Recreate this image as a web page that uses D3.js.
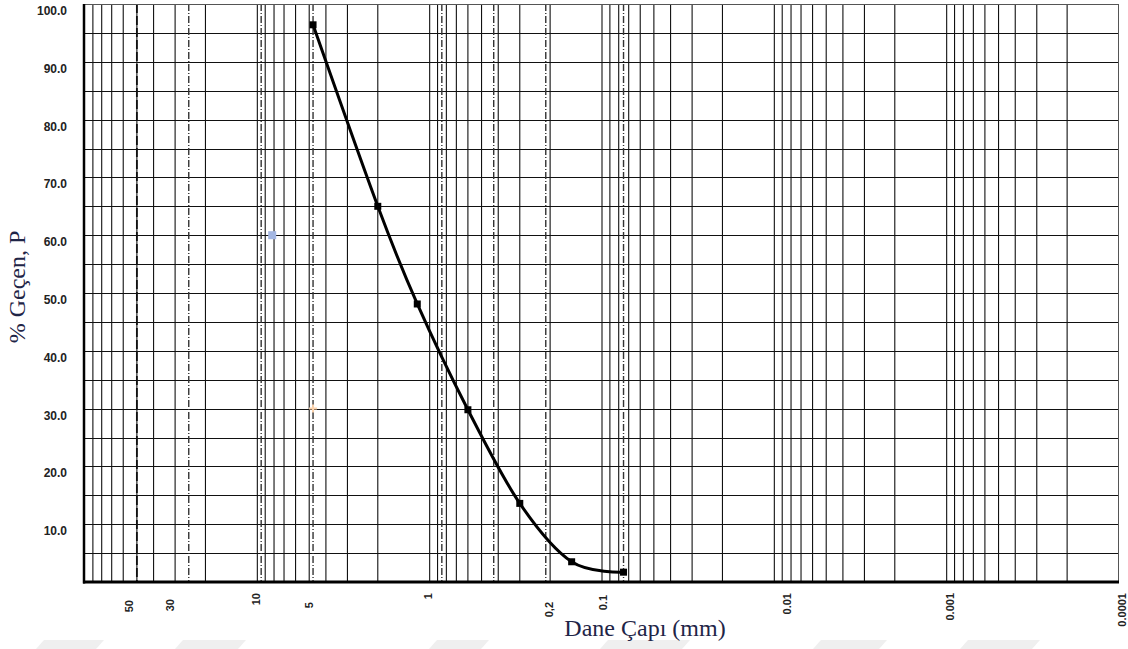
<!DOCTYPE html>
<html>
<head>
<meta charset="utf-8">
<script src="https://cdn.jsdelivr.net/npm/d3@7"></script>
<style>
  html, body { margin: 0; padding: 0; background: #fff; }
  svg { display: block; }
</style>
</head>
<body>
<svg id="chart" width="1128" height="649"></svg>
<script>
// Grain size distribution (sieve analysis)
const sieveSizes = [4.75, 2.0, 1.18, 0.6, 0.3, 0.15, 0.075];     // mm
const percentPassing = [96.4, 65.0, 48.1, 29.8, 13.6, 3.5, 1.7]; // %

// Two stray single-point series
const extraSquare = [{ d: 8.2, p: 60 }];
const extraPlus = [{ d: 4.75, p: 30 }];

// Standard sieve openings marked with dash-dot lines
const sieveLines = [25, 9.5, 4.75, 0.85, 0.425, 0.212, 0.075];
const heavyDashLine = [50];

// Axis ticks
const xTickValues = [50, 30, 10, 5, 1, 0.2, 0.1, 0.01, 0.001, 0.0001];
const xTickLabels = ["50", "30", "10", "5", "1", "0,2", "0.1", "0.01", "0.001", "0.0001"];
const yTickValues = [10, 20, 30, 40, 50, 60, 70, 80, 90, 100];
const yGridValues = d3.range(5, 100, 5);

// ---- layout ----
const svg = d3.select("#chart");

const x = d3.scaleLog().domain([100, 0.0001]).range([85, 1119]);
const y = d3.scaleLinear().domain([0, 100]).range([582, 4]);

// label nudges (dx, top y) for the rotated x tick labels
const xLabelNudge = {
  "50": [-8, 600], "30": [-5, 599], "10": [-1, 593], "5": [0, 602], "1": [-2, 593],
  "0,2": [-1, 602], "0.1": [1, 595], "0.01": [13, 593], "0.001": [3, 593], "0.0001": [3, 593]
};

// faint band along the bottom edge
const band = svg.append("g").attr("fill", "#efefef");
[[36, 104], [175, 246], [429, 489], [600, 690], [813, 887], [960, 1040]].forEach(([a, b]) => {
  band.append("path").attr("d", `M${a + 8},640 L${b},640 L${b - 8},649 L${a},649 Z`);
});

const plotL = x(100), plotR = x(0.0001), plotT = y(100), plotB = y(0);

// vertical log grid: 1..9 in every decade
const vGrid = [];
for (let e = -4; e <= 1; e++) {
  for (let m = 1; m <= 9; m++) vGrid.push(m * Math.pow(10, e));
}
const gGrid = svg.append("g");
gGrid.selectAll("line.v").data(vGrid.filter(v => v > 0.0001 && v < 100)).join("line")
  .attr("class", "v")
  .attr("x1", d => x(d)).attr("x2", d => x(d))
  .attr("y1", plotT).attr("y2", plotB)
  .attr("stroke", "#111").attr("stroke-width", 1.1);

// horizontal grid every 5 %
gGrid.selectAll("line.h").data(yGridValues).join("line")
  .attr("class", "h")
  .attr("x1", plotL).attr("x2", plotR)
  .attr("y1", d => Math.round(y(d)) + 0.5).attr("y2", d => Math.round(y(d)) + 0.5)
  .attr("stroke", "#111").attr("stroke-width", 1.2);

// sieve lines
gGrid.selectAll("line.s").data(sieveLines).join("line")
  .attr("class", "s")
  .attr("x1", d => x(d)).attr("x2", d => x(d))
  .attr("y1", plotT).attr("y2", plotB)
  .attr("stroke", "#333").attr("stroke-width", 1.4)
  .attr("stroke-dasharray", "7,2,1,2");
gGrid.selectAll("line.hd").data(heavyDashLine).join("line")
  .attr("class", "hd")
  .attr("x1", d => x(d)).attr("x2", d => x(d))
  .attr("y1", plotT).attr("y2", plotB)
  .attr("stroke", "#111").attr("stroke-width", 1.8)
  .attr("stroke-dasharray", "9,3");

// frame
svg.append("line").attr("x1", plotL).attr("x2", plotR).attr("y1", plotT + 0.5).attr("y2", plotT + 0.5)
  .attr("stroke", "#555").attr("stroke-width", 1);
svg.append("line").attr("x1", plotR - 0.5).attr("x2", plotR - 0.5).attr("y1", plotT).attr("y2", plotB)
  .attr("stroke", "#555").attr("stroke-width", 1);
svg.append("line").attr("x1", plotL - 1).attr("x2", plotL - 1).attr("y1", plotT).attr("y2", plotB + 1.5)
  .attr("stroke", "#000").attr("stroke-width", 2.5);
svg.append("line").attr("x1", plotL - 2).attr("x2", plotR).attr("y1", plotB).attr("y2", plotB)
  .attr("stroke", "#000").attr("stroke-width", 3);

// y tick labels
svg.append("g").selectAll("text").data(yTickValues).join("text")
  .attr("x", 67).attr("y", d => y(d) + 7)
  .attr("text-anchor", "end").attr("dominant-baseline", "central")
  .attr("font-family", "'Liberation Sans', Arial, sans-serif")
  .attr("font-weight", "bold").attr("font-size", 12).attr("fill", "#222")
  .text(d => d.toFixed(1));

// x tick labels (rotated)
svg.append("g").selectAll("text").data(xTickValues).join("text")
  .attr("transform", (d, i) => {
    const n = xLabelNudge[xTickLabels[i]];
    return `translate(${x(d) + n[0]},${n[1]}) rotate(-90)`;
  })
  .attr("text-anchor", "end").attr("dy", "0.36em")
  .attr("font-family", "'Liberation Sans', Arial, sans-serif")
  .attr("font-weight", "bold").attr("font-size", 11).attr("fill", "#222")
  .text((d, i) => xTickLabels[i]);

// axis titles
svg.append("text")
  .attr("transform", "translate(17,287) rotate(-90)")
  .attr("text-anchor", "middle").attr("dy", "0.35em")
  .attr("font-family", "'Liberation Serif', 'Times New Roman', serif")
  .attr("font-size", 24).attr("fill", "#1f2547")
  .text("% Geçen, P");
svg.append("text")
  .attr("x", 645).attr("y", 636)
  .attr("text-anchor", "middle")
  .attr("font-family", "'Liberation Serif', 'Times New Roman', serif")
  .attr("font-size", 24).attr("fill", "#1f2547")
  .text("Dane Çapı (mm)");

// gradation curve
const pts = sieveSizes.map((d, i) => ({ d, p: percentPassing[i] }));
const line = d3.line().x(o => x(o.d)).y(o => y(o.p)).curve(d3.curveCardinal.tension(0));
svg.append("path").datum(pts)
  .attr("d", line).attr("fill", "none")
  .attr("stroke", "#000").attr("stroke-width", 3);
svg.append("g").selectAll("rect").data(pts).join("rect")
  .attr("x", o => x(o.d) - 3.5).attr("y", o => y(o.p) - 3.5)
  .attr("width", 7).attr("height", 7).attr("fill", "#000");

// stray single-point series
svg.append("g").selectAll("rect").data(extraSquare).join("rect")
  .attr("x", o => x(o.d) - 4).attr("y", o => y(o.p) - 4)
  .attr("width", 8).attr("height", 8).attr("fill", "#a3b6e2");
svg.append("g").selectAll("path").data(extraPlus).join("path")
  .attr("d", o => `M${x(o.d) - 4},${y(o.p)} h8 M${x(o.d)},${y(o.p) - 4} v8`)
  .attr("stroke", "#fbd2ab").attr("stroke-width", 2);
</script>
</body>
</html>
